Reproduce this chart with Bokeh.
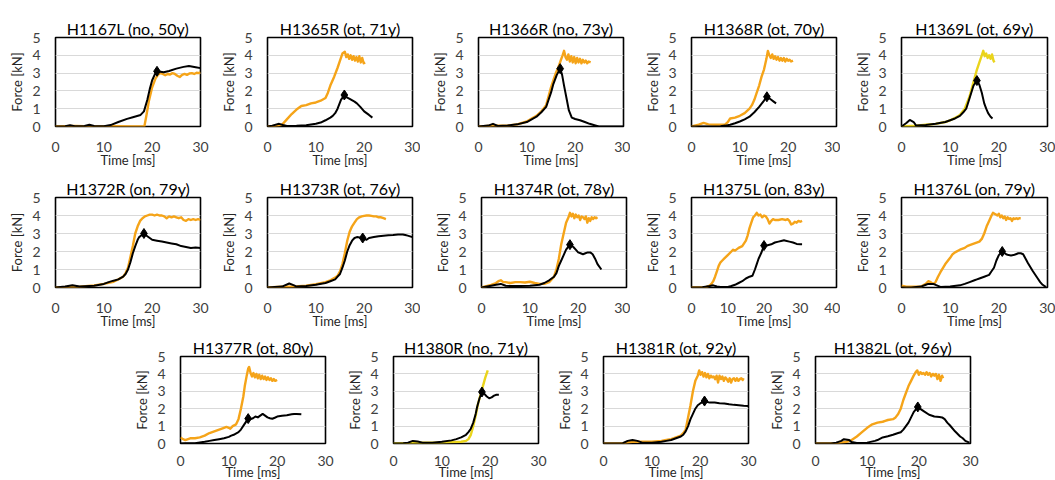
from bokeh.plotting import figure
from bokeh.layouts import column, row
from bokeh.models import Range1d, FixedTicker, Spacer
from bokeh.embed import file_html
from bokeh.resources import INLINE

# ---- specimen force histories: time [ms] / force [kN] ----
# black = bone force, orange = impactor force, diamond = peak/fracture point

H1167L_bt = [0, 2, 3, 4, 6, 7, 8, 10, 11.4, 13, 14.8, 16, 17.6, 18.3, 19, 19.5, 20, 20.5, 21, 22.4, 23.5, 25, 26.5, 27.6, 29, 30]
H1167L_bf = [0, 0.02, 0.07, 0.02, 0.03, 0.1, 0.03, 0.02, 0.08, 0.25, 0.43, 0.52, 0.65, 0.85, 1.5, 2.1, 2.6, 2.9, 3.1, 3.05, 3.12, 3.25, 3.35, 3.4, 3.33, 3.28]
H1167L_ot = [0, 4, 8, 12, 16, 18.4, 18.8, 19.3, 20, 20.7, 21.2, 21.7, 22.2, 22.7, 23.2, 23.7, 24.2, 24.7, 25.2, 25.7, 26.2, 26.7, 27.2, 27.7, 28.2, 28.7, 29.2, 29.7, 30]
H1167L_of = [0, 0.03, 0, 0.02, 0, 0.02, 0.6, 1.4, 2.2, 2.7, 2.9, 3.0, 2.95, 2.88, 2.95, 2.92, 3.0, 2.95, 2.85, 2.78, 2.9, 2.95, 2.9, 2.98, 3.0, 2.95, 3.02, 3.0, 3.05]
H1167L_pk = (21, 3.1)

H1365R_bt = [0, 1, 2.4, 3.2, 4, 6, 8, 10, 11, 12, 13, 13.5, 14, 14.5, 15.2, 15.9, 16.5, 17, 18, 18.5, 19.2, 20, 21, 21.7]
H1365R_bf = [0, 0.05, 0.15, 0.08, 0.03, 0.04, 0.07, 0.15, 0.22, 0.35, 0.5, 0.6, 0.75, 1.0, 1.5, 1.77, 1.62, 1.55, 1.4, 1.3, 1.1, 0.85, 0.65, 0.5]
H1365R_ot = [0, 2, 3, 4, 5, 6, 7, 8, 9, 10, 11, 12, 12.5, 13, 13.8, 14.5, 15, 15.5, 16, 16.3, 16.6, 16.9, 17.2, 17.5, 17.8, 18.1, 18.4, 18.7, 19, 19.3, 19.6, 19.9, 20.2]
H1365R_of = [0, 0.05, 0.1, 0.4, 0.7, 0.95, 1.15, 1.2, 1.3, 1.35, 1.45, 1.6, 1.9, 2.3, 2.8, 3.3, 3.7, 4.1, 4.2, 3.9, 4.05, 3.8, 4.0, 3.75, 3.95, 3.7, 3.9, 3.65, 3.95, 3.6, 3.85, 3.55, 3.6]
H1365R_pk = (15.9, 1.77)

H1366R_bt = [0, 2, 3, 4, 6, 8, 10, 11, 12, 13, 14, 14.5, 15, 15.5, 16.2, 16.9, 17.3, 17.7, 18.2, 18.7, 19.3, 20, 21, 22, 23, 24, 24.9, 30]
H1366R_bf = [0, 0.05, 0.15, 0.03, 0.05, 0.12, 0.25, 0.4, 0.55, 0.8, 1.1, 1.5, 1.9, 2.4, 2.9, 3.25, 2.9, 2.3, 1.6, 0.9, 0.5, 0.42, 0.35, 0.25, 0.15, 0.07, 0, 0]
H1366R_ot = [0, 3, 6, 8, 10, 11, 12, 13, 14, 14.5, 15, 15.5, 16, 16.5, 17, 17.4, 17.7, 18, 18.3, 18.6, 18.9, 19.2, 19.5, 19.8, 20.1, 20.4, 20.7, 21, 21.3, 21.6, 21.9, 22.2, 22.5, 22.8, 23.2]
H1366R_of = [0, 0.05, 0.05, 0.12, 0.28, 0.45, 0.6, 0.85, 1.2, 1.7, 2.2, 2.6, 3.0, 3.3, 3.7, 4.0, 4.25, 3.9, 3.75, 4.05, 3.65, 3.95, 3.6, 3.9, 3.55, 3.85, 3.6, 3.8, 3.55, 3.75, 3.6, 3.7, 3.55, 3.65, 3.6]
H1366R_pk = (16.9, 3.25)

H1368R_bt = [0, 3, 6, 7, 8, 9, 10, 11, 12, 13, 14, 15, 15.6, 16, 16.5, 17, 17.5]
H1368R_bf = [0, 0, 0.02, 0.05, 0.1, 0.18, 0.28, 0.4, 0.55, 0.8, 1.1, 1.45, 1.67, 1.6, 1.5, 1.4, 1.3]
H1368R_ot = [0, 1.5, 2.5, 3.5, 5, 7, 7.5, 8, 9, 10, 11, 12, 12.5, 13, 13.5, 14, 14.5, 15, 15.5, 15.8, 16.1, 16.4, 16.7, 17, 17.3, 17.6, 17.9, 18.2, 18.5, 18.8, 19.1, 19.4, 19.7, 20, 20.3, 20.6, 21]
H1368R_of = [0, 0.1, 0.2, 0.12, 0.1, 0.12, 0.25, 0.45, 0.5, 0.6, 0.75, 1.0, 1.2, 1.5, 1.9, 2.3, 2.8, 3.2, 3.8, 4.25, 4.0, 3.85, 4.05, 3.8, 3.95, 3.75, 3.9, 3.7, 3.85, 3.7, 3.85, 3.65, 3.8, 3.7, 3.75, 3.65, 3.7]
H1368R_pk = (15.6, 1.67)

H1369L_bt = [0, 1, 1.7, 2.5, 3, 5, 7, 9, 10, 11, 12, 12.7, 13.3, 14, 14.8, 15.5, 16, 16.5, 17, 17.4, 17.8, 18.3, 18.7]
H1369L_bf = [0, 0.2, 0.37, 0.25, 0.05, 0.08, 0.15, 0.25, 0.35, 0.45, 0.6, 0.8, 1.0, 1.6, 2.3, 2.58, 2.35, 1.9, 1.3, 1.0, 0.75, 0.55, 0.45]
H1369L_ot = [0, 3, 5, 7, 9, 10, 11, 12, 13, 14, 14.5, 15, 15.5, 16, 16.5, 16.8, 17.1, 17.4, 17.7, 18, 18.3, 18.6, 18.9, 19.1]
H1369L_of = [0, 0.05, 0.1, 0.15, 0.25, 0.35, 0.48, 0.65, 1.0, 1.7, 2.2, 2.7, 3.2, 3.6, 4.0, 4.25, 3.95, 4.1, 3.85, 4.0, 3.8, 4.05, 3.7, 3.6]
H1369L_pk = (15.5, 2.58)

H1372R_bt = [0, 2, 3.5, 5, 8, 10, 11, 12, 13, 14, 14.5, 15, 15.5, 16, 16.5, 17, 17.3, 17.8, 18.3, 19, 20, 21, 22, 23, 24, 25, 26, 27, 28, 29, 30]
H1372R_bf = [0, 0.05, 0.12, 0.05, 0.1, 0.2, 0.3, 0.38, 0.45, 0.6, 0.75, 1.0, 1.4, 1.9, 2.3, 2.65, 2.8, 2.9, 3.0, 2.85, 2.65, 2.6, 2.55, 2.5, 2.45, 2.4, 2.3, 2.25, 2.2, 2.22, 2.2]
H1372R_ot = [0, 3, 5, 8, 10, 12, 13, 14, 14.5, 15, 15.5, 16, 16.5, 17, 17.5, 18, 18.5, 19, 19.5, 20, 20.5, 21, 21.5, 22, 22.5, 23, 23.5, 24, 24.5, 25, 25.5, 26, 26.5, 27, 27.5, 28, 28.5, 29, 29.5, 30]
H1372R_of = [0, 0.03, 0.05, 0.12, 0.2, 0.32, 0.45, 0.6, 0.8, 1.1, 1.7, 2.3, 3.0, 3.4, 3.7, 3.85, 3.95, 4.0, 4.05, 4.05, 4.0, 4.05, 4.0, 4.0, 3.95, 3.85, 3.95, 3.9, 3.95, 3.9, 3.85, 3.9, 3.75, 3.7, 3.8, 3.75, 3.8, 3.75, 3.8, 3.75]
H1372R_pk = (18.3, 3.0)

H1373R_bt = [0, 3, 4.5, 5.5, 6, 8, 10, 12, 13, 14, 14.5, 15, 15.5, 16, 16.5, 17, 17.5, 18, 18.5, 19.7, 20.5, 21, 22, 23, 24, 25, 26, 27, 28, 28.5, 29, 30]
H1373R_bf = [0, 0.05, 0.22, 0.12, 0.05, 0.08, 0.15, 0.25, 0.35, 0.45, 0.6, 0.75, 1.1, 1.5, 2.0, 2.35, 2.6, 2.75, 2.8, 2.75, 2.65, 2.75, 2.8, 2.85, 2.88, 2.9, 2.92, 2.95, 2.95, 2.92, 2.88, 2.8]
H1373R_ot = [0, 3, 5, 8, 10, 12, 13, 14, 14.5, 15, 15.5, 16, 16.5, 17, 17.5, 18, 18.5, 19, 19.5, 20, 20.5, 21, 21.5, 22, 22.5, 23, 23.5, 24, 24.5]
H1373R_of = [0, 0.05, 0.05, 0.1, 0.18, 0.3, 0.4, 0.55, 0.65, 0.9, 1.3, 1.9, 2.6, 3.1, 3.4, 3.6, 3.8, 3.9, 3.95, 3.98, 4.0, 4.0, 3.98, 3.95, 3.95, 3.9, 3.9, 3.85, 3.8]
H1373R_pk = (19.7, 2.75)

H1374R_bt = [0, 2, 3, 4, 5, 6, 8, 10, 12, 13, 14, 15, 15.5, 16, 16.5, 17, 17.5, 18.3, 19, 19.5, 20, 20.5, 21, 21.5, 22, 22.5, 23, 23.5, 24, 24.8]
H1374R_bf = [0, 0.1, 0.15, 0.2, 0.1, 0.08, 0.08, 0.1, 0.15, 0.25, 0.4, 0.6, 0.8, 1.2, 1.5, 1.8, 2.1, 2.38, 2.25, 2.1, 1.95, 1.9, 1.85, 1.9, 1.95, 1.95, 1.85, 1.6, 1.3, 1.0]
H1374R_ot = [0, 1, 2, 3, 3.5, 4, 4.5, 5, 6, 7, 8, 9, 10, 11, 12, 13, 14, 14.5, 15, 15.5, 16, 16.5, 17, 17.5, 18, 18.3, 18.6, 18.9, 19.2, 19.5, 19.8, 20.1, 20.4, 20.7, 21, 21.3, 21.6, 21.9, 22.2, 22.5, 22.8, 23.1, 23.4, 23.7, 24]
H1374R_of = [0, 0.08, 0.15, 0.25, 0.35, 0.4, 0.3, 0.3, 0.25, 0.3, 0.3, 0.28, 0.32, 0.25, 0.2, 0.2, 0.3, 0.45, 0.6, 1.0, 1.6, 2.4, 3.0, 3.6, 3.9, 4.15, 3.95, 4.1, 3.85, 4.05, 3.9, 4.0, 3.75, 3.95, 3.9, 3.8, 3.95, 3.6, 3.85, 3.7, 3.9, 3.8, 3.9, 3.85, 3.9]
H1374R_pk = (18.3, 2.38)

H1375L_bt = [0, 3, 5, 6, 7, 8, 10, 11, 12, 13, 14, 15, 16, 16.8, 17.5, 18, 18.5, 19.2, 20, 20.5, 21, 22, 23, 24, 25, 25.5, 26, 27, 28, 29, 30, 30.5]
H1375L_bf = [0, 0.02, 0.08, 0.12, 0.06, 0.03, 0.03, 0.08, 0.15, 0.25, 0.35, 0.5, 0.6, 0.65, 1.0, 1.3, 1.6, 1.9, 2.33, 2.3, 2.35, 2.4, 2.5, 2.55, 2.6, 2.62, 2.6, 2.55, 2.5, 2.42, 2.4, 2.4]
H1375L_ot = [0, 2, 4, 5, 5.5, 6, 6.5, 7, 7.5, 8, 8.5, 9, 10, 11, 11.5, 12, 13, 14, 14.5, 15, 15.5, 16, 16.5, 17, 17.5, 18, 18.5, 19, 19.5, 20, 20.5, 21, 21.5, 22, 22.5, 23, 24, 25, 26, 26.5, 27, 27.5, 28, 28.5, 29, 29.5, 30, 30.5]
H1375L_of = [0, 0, 0.02, 0.1, 0.2, 0.35, 0.6, 0.9, 1.2, 1.4, 1.5, 1.6, 1.8, 2.0, 2.1, 2.05, 2.2, 2.3, 2.45, 2.6, 2.9, 3.3, 3.6, 3.9, 4.0, 4.15, 4.0, 4.05, 3.9, 4.0, 3.95, 3.8, 3.55, 3.7, 3.8, 3.75, 3.75, 3.8, 3.75, 3.8, 3.7, 3.5, 3.55, 3.65, 3.6, 3.7, 3.65, 3.7]
H1375L_pk = (20, 2.33)

H1376L_bt = [0, 2, 4, 5, 5.5, 6.5, 7, 8, 10, 12, 13, 14, 15, 15.5, 16, 17, 18, 18.5, 19, 19.5, 20, 20.7, 21.5, 22, 22.5, 23, 23.5, 24, 24.5, 25, 25.5, 26, 27, 28, 28.5, 29, 29.7]
H1376L_bf = [0, 0, 0.05, 0.15, 0.2, 0.2, 0.15, 0.03, 0.05, 0.12, 0.2, 0.3, 0.4, 0.45, 0.5, 0.6, 0.7, 0.9, 1.1, 1.5, 1.8, 2.0, 1.85, 1.8, 1.78, 1.8, 1.85, 1.9, 1.9, 1.85, 1.6, 1.35, 0.9, 0.5, 0.3, 0.15, 0.02]
H1376L_ot = [0, 1, 2, 3, 4, 5, 5.5, 6, 6.5, 7, 7.5, 8, 9, 10, 10.5, 11, 12, 13, 13.5, 14, 15, 16, 16.5, 17, 17.5, 18, 18.5, 18.8, 19.1, 19.4, 19.7, 20, 20.3, 20.6, 20.9, 21.2, 21.5, 21.8, 22.1, 22.4, 22.7, 23, 23.3, 23.6, 23.9, 24.2, 24.5]
H1376L_of = [0.1, 0.05, 0.05, 0.05, 0.05, 0.2, 0.35, 0.3, 0.2, 0.3, 0.6, 0.85, 1.3, 1.65, 1.85, 1.95, 2.1, 2.2, 2.3, 2.35, 2.45, 2.55, 2.7, 3.0, 3.4, 3.7, 4.0, 4.15, 4.1, 4.05, 4.0, 4.1, 3.9, 4.0, 3.85, 3.95, 3.75, 3.9, 3.8, 3.85, 3.7, 3.85, 3.8, 3.85, 3.8, 3.85, 3.85]
H1376L_pk = (20.7, 2.0)

H1377R_bt = [0, 1, 3, 5, 6, 7, 8, 9, 10, 10.5, 11, 12, 12.5, 13.2, 14, 14.5, 15, 15.5, 16, 16.5, 17, 17.5, 18, 18.5, 19, 19.5, 20, 21, 22, 23, 23.5, 24, 25]
H1377R_bf = [0, 0.02, 0.02, 0.1, 0.15, 0.2, 0.25, 0.3, 0.38, 0.45, 0.5, 0.65, 0.8, 1.1, 1.43, 1.4, 1.45, 1.55, 1.5, 1.6, 1.7, 1.6, 1.5, 1.45, 1.42, 1.48, 1.55, 1.6, 1.62, 1.68, 1.7, 1.7, 1.68]
H1377R_ot = [0, 0.5, 1, 2, 3, 4, 5, 6, 7, 8, 9, 9.5, 10, 10.3, 10.8, 11.5, 12, 12.5, 13, 13.3, 13.7, 14, 14.2, 14.5, 14.8, 15.1, 15.4, 15.7, 16, 16.3, 16.6, 16.9, 17.2, 17.5, 17.8, 18.1, 18.4, 18.7, 19, 19.3, 19.6, 20]
H1377R_of = [0.35, 0.25, 0.2, 0.3, 0.3, 0.35, 0.45, 0.6, 0.7, 0.8, 0.9, 0.95, 0.9, 0.85, 1.0, 1.1, 1.4, 2.0, 2.7, 3.3, 3.9, 4.3, 4.4, 4.05, 3.85, 4.05, 3.8, 4.0, 3.75, 3.95, 3.7, 3.9, 3.7, 3.85, 3.65, 3.8, 3.65, 3.75, 3.6, 3.7, 3.6, 3.65]
H1377R_pk = (14, 1.43)

H1380R_bt = [0, 2, 3, 4, 5, 6, 8, 10, 12, 13, 14, 15, 15.5, 16, 16.5, 17, 17.3, 17.8, 18.3, 18.8, 19.3, 19.8, 20.3, 20.8, 21.3, 21.8]
H1380R_bf = [0, 0.02, 0.05, 0.15, 0.12, 0.05, 0.05, 0.1, 0.18, 0.25, 0.35, 0.5, 0.65, 0.85, 1.2, 1.7, 2.1, 2.6, 2.96, 2.85, 2.7, 2.6, 2.65, 2.75, 2.8, 2.8]
H1380R_ot = [0, 3, 6, 8, 10, 12, 14, 15, 15.5, 16, 16.5, 17, 17.5, 18, 18.5, 19, 19.5]
H1380R_of = [0, 0.02, 0.05, 0.05, 0.05, 0.08, 0.1, 0.15, 0.25, 0.5, 1.0, 1.6, 2.3, 2.8, 3.3, 3.8, 4.2]
H1380R_pk = (18.3, 2.96)

H1381R_bt = [0, 3, 4, 5, 6, 7, 8, 10, 12, 13, 14, 15, 16, 16.5, 17, 17.5, 18, 18.5, 19, 19.5, 20, 20.9, 21.5, 22, 23, 24, 25, 26, 27, 28, 29, 30]
H1381R_bf = [0, 0, 0.02, 0.15, 0.2, 0.15, 0.05, 0.05, 0.1, 0.15, 0.2, 0.3, 0.4, 0.5, 0.7, 1.0, 1.4, 1.7, 2.0, 2.2, 2.3, 2.44, 2.38, 2.35, 2.35, 2.32, 2.3, 2.25, 2.22, 2.2, 2.17, 2.15]
H1381R_ot = [0, 3, 4, 6, 8, 10, 12, 13, 14, 15, 16, 16.5, 17, 17.5, 18, 18.5, 19, 19.5, 19.8, 20.1, 20.4, 20.7, 21, 21.3, 21.6, 21.9, 22.2, 22.5, 22.8, 23.1, 23.4, 23.7, 24, 24.3, 24.6, 24.9, 25.2, 25.5, 25.8, 26.1, 26.4, 26.7, 27, 27.3, 27.6, 27.9, 28.2, 28.5, 28.8, 29]
H1381R_of = [0, 0, 0.02, 0.1, 0.1, 0.1, 0.15, 0.2, 0.25, 0.35, 0.45, 0.6, 0.8, 1.5, 2.2, 3.0, 3.6, 3.9, 4.2, 3.95, 4.1, 3.85, 4.05, 3.8, 4.0, 3.75, 3.9, 3.8, 3.85, 3.7, 3.9, 3.5, 3.9, 3.7, 3.85, 3.6, 3.8, 3.7, 3.55, 3.75, 3.5, 3.7, 3.75, 3.6, 3.75, 3.6, 3.7, 3.75, 3.65, 3.75]
H1381R_pk = (20.9, 2.44)

H1382L_bt = [0, 3, 4, 5, 5.5, 6.5, 7, 8, 10, 11.5, 12, 13, 14, 15, 16, 16.5, 17, 17.5, 18, 18.5, 19, 19.8, 20.5, 21, 22, 23, 24, 24.5, 25, 25.5, 26, 27, 28, 28.5, 29, 29.8]
H1382L_bf = [0, 0, 0.05, 0.15, 0.25, 0.2, 0.08, 0.03, 0.05, 0.15, 0.2, 0.35, 0.42, 0.5, 0.6, 0.65, 0.8, 1.0, 1.2, 1.5, 1.8, 2.1, 1.95, 1.85, 1.65, 1.55, 1.52, 1.5, 1.4, 1.2, 1.05, 0.7, 0.4, 0.3, 0.15, 0.05]
H1382L_ot = [0, 3, 4, 5, 6, 7, 7.5, 8, 9, 10, 10.5, 11, 12, 13, 13.5, 14, 15, 15.5, 16, 16.5, 17, 17.5, 18, 18.5, 19, 19.4, 19.7, 20, 20.3, 20.6, 20.9, 21.2, 21.5, 21.8, 22.1, 22.4, 22.7, 23, 23.3, 23.6, 23.9, 24.2, 24.5, 24.7]
H1382L_of = [0, 0, 0.02, 0.05, 0.1, 0.2, 0.3, 0.4, 0.65, 0.9, 1.0, 1.1, 1.2, 1.25, 1.3, 1.35, 1.4, 1.5, 1.7, 2.0, 2.5, 2.9, 3.3, 3.6, 3.9, 4.1, 4.2, 3.95, 4.1, 4.0, 4.05, 3.95, 4.1, 3.95, 4.05, 3.85, 4.0, 3.9, 4.0, 3.7, 3.95, 3.6, 3.9, 3.75]
H1382L_pk = (19.8, 2.1)

TITLES = ["H1167L (no, 50y)", "H1365R (ot, 71y)", "H1366R (no, 73y)", "H1368R (ot, 70y)", "H1369L (ot, 69y)",
          "H1372R (on, 79y)", "H1373R (ot, 76y)", "H1374R (ot, 78y)", "H1375L (on, 83y)", "H1376L (on, 79y)",
          "H1377R (ot, 80y)", "H1380R (no, 71y)", "H1381R (ot, 92y)", "H1382L (ot, 96y)"]
Y_TICKS = [0, 1, 2, 3, 4, 5]
X_TICKS_30 = [0, 10, 20, 30]
X_TICKS_40 = [0, 10, 20, 30, 40]

SERIES = [
    (H1167L_bt, H1167L_bf, H1167L_ot, H1167L_of, H1167L_pk),
    (H1365R_bt, H1365R_bf, H1365R_ot, H1365R_of, H1365R_pk),
    (H1366R_bt, H1366R_bf, H1366R_ot, H1366R_of, H1366R_pk),
    (H1368R_bt, H1368R_bf, H1368R_ot, H1368R_of, H1368R_pk),
    (H1369L_bt, H1369L_bf, H1369L_ot, H1369L_of, H1369L_pk),
    (H1372R_bt, H1372R_bf, H1372R_ot, H1372R_of, H1372R_pk),
    (H1373R_bt, H1373R_bf, H1373R_ot, H1373R_of, H1373R_pk),
    (H1374R_bt, H1374R_bf, H1374R_ot, H1374R_of, H1374R_pk),
    (H1375L_bt, H1375L_bf, H1375L_ot, H1375L_of, H1375L_pk),
    (H1376L_bt, H1376L_bf, H1376L_ot, H1376L_of, H1376L_pk),
    (H1377R_bt, H1377R_bf, H1377R_ot, H1377R_of, H1377R_pk),
    (H1380R_bt, H1380R_bf, H1380R_ot, H1380R_of, H1380R_pk),
    (H1381R_bt, H1381R_bf, H1381R_ot, H1381R_of, H1381R_pk),
    (H1382L_bt, H1382L_bf, H1382L_ot, H1382L_of, H1382L_pk),
]

ORANGE = "#f5a419"
YELLOW = "#ead41c"
FONT = "Lato"

# per panel: (cell width, left border, frame width, top border, frame height)
ROW_H = 160
TOP_PAD = 15
GEOM = [
    (210, 55, 145, 22, 89), (210, 57, 145, 22, 89), (210, 58, 145, 22, 89), (210, 61, 145, 22, 89), (215, 61, 146, 22, 89),
    (210, 55, 145, 22, 90), (210, 57, 145, 22, 90), (210, 61, 145, 22, 90), (210, 61, 145, 22, 90), (215, 61, 146, 22, 90),
    (212, 50, 145, 18, 90), (210, 51, 145, 18, 90), (211, 51, 145, 20, 88), (222, 52, 155, 18, 92),
]


def panel(i):
    bt, bf, ot, of, pk = SERIES[i]
    w, lb, fw, tb, fh = GEOM[i]
    xmax = 40 if i == 8 else 30
    last_row = i >= 10
    p = figure(width=w, height=ROW_H, output_backend="svg", toolbar_location=None,
               x_range=Range1d(0, xmax), y_range=Range1d(0, 5),
               min_border_left=lb, min_border_right=w - lb - fw,
               min_border_top=tb, min_border_bottom=ROW_H - tb - fh,
               title=TITLES[i])
    p.title.text_font = FONT
    p.title.text_font_size = "16px"
    p.title.text_font_style = "normal"
    p.title.text_color = "#000000"
    p.title.align = "center"
    p.title.standoff = 0
    p.outline_line_color = "black"
    p.outline_line_width = 1.6
    p.background_fill_color = "white"
    p.border_fill_color = "white"

    p.xgrid.visible = False
    p.ygrid.grid_line_color = "#d9d9d9"
    p.ygrid.grid_line_width = 1
    p.yaxis.ticker = FixedTicker(ticks=Y_TICKS)
    p.xaxis.ticker = FixedTicker(ticks=X_TICKS_40 if i == 8 else X_TICKS_30)
    for ax in (p.xaxis, p.yaxis):
        ax.axis_line_color = None
        ax.major_tick_line_color = None
        ax.minor_tick_line_color = None
        ax.major_label_text_font = FONT
        ax.major_label_text_font_size = "14px"
        ax.major_label_text_color = "#404040"
        ax.axis_label_text_font = FONT
        ax.axis_label_text_font_size = "13px"
        ax.axis_label_text_font_style = "normal"
        ax.axis_label_text_color = "#262626"
    p.xaxis.axis_label = "Time [ms]"
    p.yaxis.axis_label = "Force [kN]"
    p.xaxis.major_label_standoff = 6 if last_row else 9
    p.xaxis.axis_label_standoff = -5 if last_row else -3
    p.yaxis.major_label_standoff = 9
    p.yaxis.axis_label_standoff = 4

    ocolor = YELLOW if i in (4, 11) else ORANGE
    p.line(ot, of, line_color=ocolor, line_width=2.4, line_join="round")
    p.line(bt, bf, line_color="black", line_width=2, line_join="round")
    p.scatter([pk[0]], [pk[1]], marker="diamond", size=10, fill_color="black", line_color="black")
    return p


figs = [panel(i) for i in range(14)]
layout = column(
    Spacer(width=1055, height=TOP_PAD),
    row(*figs[0:5]),
    row(*figs[5:10]),
    row(Spacer(width=130, height=ROW_H), *figs[10:14]),
)

html = file_html(layout, INLINE)
open("out.html", "w").write(html)
